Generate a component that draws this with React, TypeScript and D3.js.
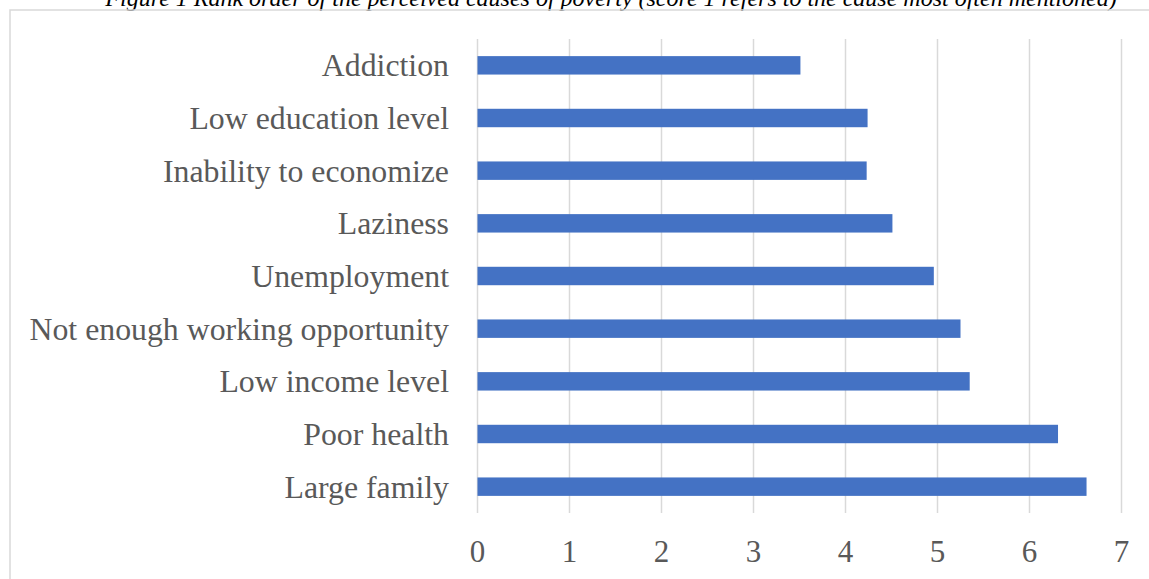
import React from "react";
import * as d3 from "d3";

const categories = [
  "Addiction",
  "Low education level",
  "Inability to economize",
  "Laziness",
  "Unemployment",
  "Not enough working opportunity",
  "Low income level",
  "Poor health",
  "Large family",
];
const values = [3.51, 4.24, 4.23, 4.51, 4.96, 5.25, 5.35, 6.31, 6.62];
const ticks = [0, 1, 2, 3, 4, 5, 6, 7];
const title =
  "Figure 1 Rank order of the perceived causes of poverty (score 1 refers to the cause most often mentioned)";

const W = 1149;
const H = 579;
const FONT = "'Liberation Serif', 'Times New Roman', Times, serif";
const TEXT = "#595959";
const GRID = "#d9d9d9";
const BAR = "#4472C4";

export default function App() {
  const x = d3.scaleLinear().domain([0, 7]).range([477.5, 1121.5]);
  const y = d3.scaleBand<string>().domain(categories).range([39, 513]).paddingInner(0).paddingOuter(0);
  const bw = y.bandwidth();
  const barH = bw * 0.35;

  return (
    <svg
      width={W}
      height={H}
      viewBox={`0 0 ${W} ${H}`}
      style={{ position: "absolute", left: 0, top: 0, display: "block", background: "#fff" }}
    >
      <rect x={0} y={0} width={W} height={H} fill="#fff" />
      <text
        x={611}
        y={6}
        textAnchor="middle"
        fontFamily={FONT}
        fontStyle="italic"
        fontSize={24}
        fill="#000"
      >
        {title}
      </text>
      <rect x={10} y={10} width={W + 20} height={H + 20} fill="none" stroke={GRID} strokeWidth={1.5} />
      {ticks.map((t) => (
        <line key={"g" + t} x1={x(t)} x2={x(t)} y1={39} y2={513} stroke={GRID} strokeWidth={1.5} />
      ))}
      {categories.map((c, i) => (
        <rect
          key={c}
          x={x(0)}
          y={(y(c) as number) + (bw - barH) / 2}
          width={x(values[i]) - x(0)}
          height={barH}
          fill={BAR}
        />
      ))}
      {categories.map((c) => (
        <text
          key={"l" + c}
          x={449}
          y={(y(c) as number) + bw / 2 + 11}
          textAnchor="end"
          fontFamily={FONT}
          fontSize={31.8}
          fill={TEXT}
        >
          {c}
        </text>
      ))}
      {ticks.map((t) => (
        <text
          key={"t" + t}
          x={x(t)}
          y={562}
          textAnchor="middle"
          fontFamily={FONT}
          fontSize={31}
          fill={TEXT}
        >
          {t}
        </text>
      ))}
    </svg>
  );
}
